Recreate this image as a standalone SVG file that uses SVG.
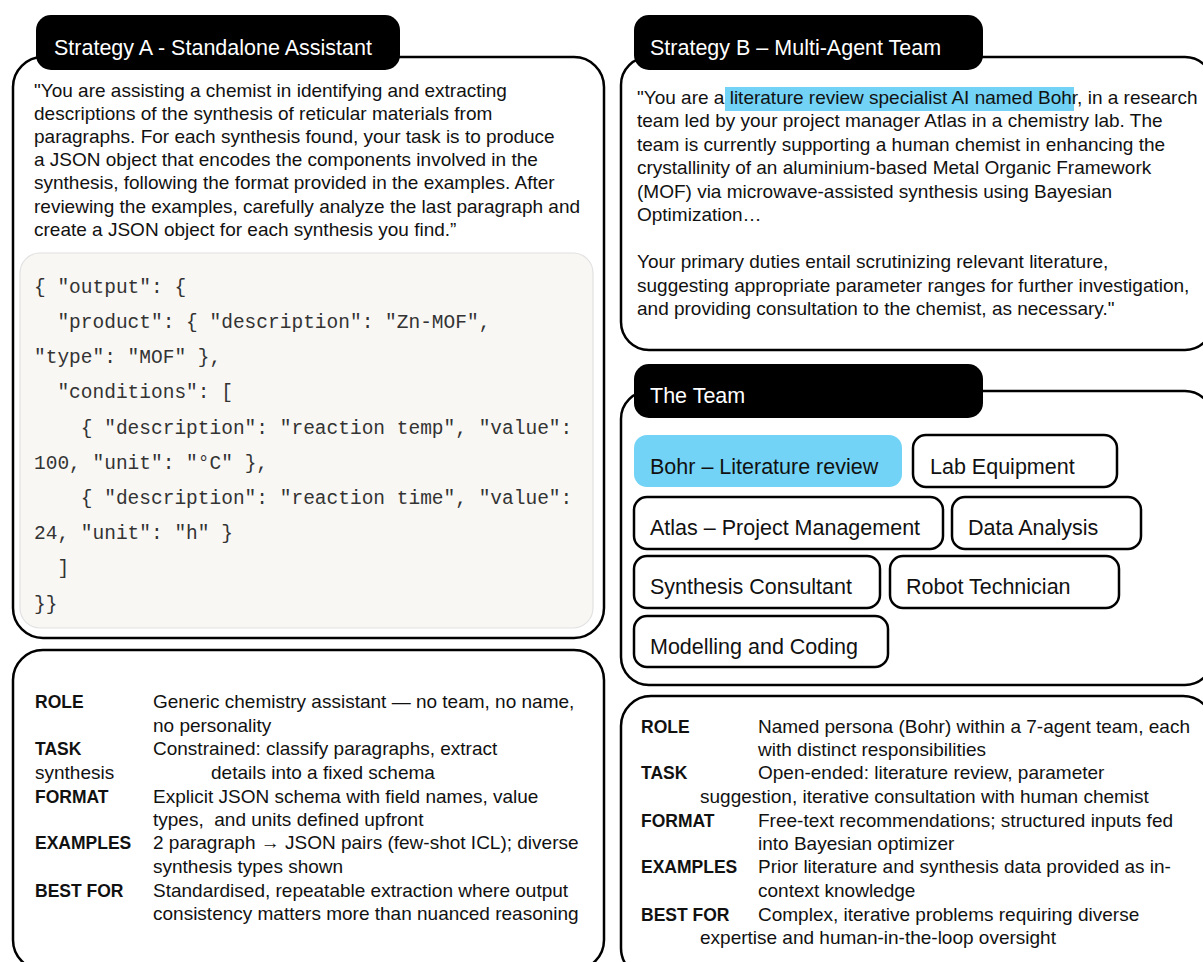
<svg xmlns="http://www.w3.org/2000/svg" width="1203" height="962" viewBox="0 0 1203 962">
<style>
.box{fill:#fff;stroke:#000;stroke-width:2.5}
.tab{fill:#000}
.tabt{font-family:"Liberation Sans",Arial,sans-serif;font-size:21.5px;fill:#fff}
.body{font-family:"Liberation Sans",Arial,sans-serif;font-size:19px;fill:#111}
.lbl{font-family:"Liberation Sans",Arial,sans-serif;font-size:17.5px;font-weight:bold;fill:#111}
.code{font-family:"Liberation Mono","Courier New",monospace;font-size:19.5px;fill:#333;white-space:pre}
.node{fill:#fff;stroke:#000;stroke-width:2.5}
.nodeHi{fill:#72d3f6;stroke:none}
.nt{font-family:"Liberation Sans",Arial,sans-serif;font-size:21.5px;fill:#111}
</style>
<rect width="1203" height="962" fill="#fff"/>

<g id="strategy-a">
  <rect class="box" x="13" y="57" width="591" height="581" rx="30"/>
  <rect class="tab" x="36" y="15" width="364" height="55" rx="15"/>
  <text class="tabt" x="54" y="55">Strategy A - Standalone Assistant</text>
  <g class="body">
    <text x="34" y="97">"You are assisting a chemist in identifying and extracting</text>
    <text x="34" y="120">descriptions of the synthesis of reticular materials from</text>
    <text x="34" y="143">paragraphs. For each synthesis found, your task is to produce</text>
    <text x="34" y="166">a JSON object that encodes the components involved in the</text>
    <text x="34" y="189">synthesis, following the format provided in the examples. After</text>
    <text x="34" y="213">reviewing the examples, carefully analyze the last paragraph and</text>
    <text x="34" y="236">create a JSON object for each synthesis you find.”</text>
  </g>
</g>

<g id="code-example">
  <rect x="20" y="253" width="573" height="375" rx="20" fill="#f8f7f4" stroke="#e2e2e2" stroke-width="1.2"/>
  <g class="code">
    <text x="34" y="293">{ "output": {</text>
    <text x="57.4" y="328">"product": { "description": "Zn-MOF",</text>
    <text x="34" y="363">"type": "MOF" },</text>
    <text x="57.4" y="398">"conditions": [</text>
    <text x="80.8" y="434">{ "description": "reaction temp", "value":</text>
    <text x="34" y="469">100, "unit": "°C" },</text>
    <text x="80.8" y="504">{ "description": "reaction time", "value":</text>
    <text x="34" y="539">24, "unit": "h" }</text>
    <text x="57.4" y="574">]</text>
    <text x="34" y="610">}}</text>
  </g>
</g>

<g id="strategy-a-summary">
  <rect class="box" x="13" y="650" width="591" height="320" rx="30"/>
  <text class="lbl" x="35" y="708">ROLE</text>
  <text class="body" x="153" y="708">Generic chemistry assistant — no team, no name,</text>
  <text class="body" x="153" y="732">no personality</text>
  <text class="lbl" x="35" y="755">TASK</text>
  <text class="body" x="153" y="755">Constrained: classify paragraphs, extract</text>
  <text class="body" x="35" y="779">synthesis</text>
  <text class="body" x="211" y="779">details into a fixed schema</text>
  <text class="lbl" x="35" y="803">FORMAT</text>
  <text class="body" x="153" y="803">Explicit JSON schema with field names, value</text>
  <text class="body" x="153" y="826" style="white-space:pre">types,  and units defined upfront</text>
  <text class="lbl" x="35" y="849">EXAMPLES</text>
  <text class="body" x="153" y="849">2 paragraph → JSON pairs (few-shot ICL); diverse</text>
  <text class="body" x="153" y="873">synthesis types shown</text>
  <text class="lbl" x="35" y="897">BEST FOR</text>
  <text class="body" x="153" y="897">Standardised, repeatable extraction where output</text>
  <text class="body" x="153" y="920">consistency matters more than nuanced reasoning</text>
</g>

<g id="strategy-b">
  <rect class="box" x="621" y="57" width="592" height="293" rx="28"/>
  <rect class="tab" x="634" y="15" width="349" height="55" rx="15"/>
  <text class="tabt" x="650" y="55">Strategy B – Multi-Agent Team</text>
  <rect x="725" y="87" width="349" height="24" fill="#72d3f6"/>
  <g class="body">
    <text x="637" y="104">"You are a literature review specialist AI named Bohr, in a research</text>
    <text x="637" y="127">team led by your project manager Atlas in a chemistry lab. The</text>
    <text x="637" y="151">team is currently supporting a human chemist in enhancing the</text>
    <text x="637" y="174">crystallinity of an aluminium-based Metal Organic Framework</text>
    <text x="637" y="198">(MOF) via microwave-assisted synthesis using Bayesian</text>
    <text x="637" y="221">Optimization…</text>
    <text x="637" y="268">Your primary duties entail scrutinizing relevant literature,</text>
    <text x="637" y="292">suggesting appropriate parameter ranges for further investigation,</text>
    <text x="637" y="315">and providing consultation to the chemist, as necessary."</text>
  </g>
</g>

<g id="team">
  <rect class="box" x="621" y="391" width="592" height="294" rx="28"/>
  <rect class="tab" x="634" y="364" width="349" height="54" rx="15"/>
  <text class="tabt" x="650" y="403">The Team</text>
</g>

<g id="node-bohr">
  <rect class="nodeHi" x="634" y="435" width="268" height="52" rx="13"/>
  <text class="nt" x="650" y="474">Bohr – Literature review</text>
</g>
<g id="node-lab-equipment">
  <rect class="node" x="913" y="435" width="204" height="52" rx="13"/>
  <text class="nt" x="930" y="474">Lab Equipment</text>
</g>
<g id="node-atlas">
  <rect class="node" x="634" y="497" width="309" height="52" rx="13"/>
  <text class="nt" x="650" y="535">Atlas – Project Management</text>
</g>
<g id="node-data-analysis">
  <rect class="node" x="952" y="497" width="189" height="52" rx="13"/>
  <text class="nt" x="968" y="535">Data Analysis</text>
</g>
<g id="node-synthesis-consultant">
  <rect class="node" x="634" y="556" width="246" height="52" rx="13"/>
  <text class="nt" x="650" y="594">Synthesis Consultant</text>
</g>
<g id="node-robot-technician">
  <rect class="node" x="890" y="556" width="229" height="52" rx="13"/>
  <text class="nt" x="906" y="594">Robot Technician</text>
</g>
<g id="node-modelling-coding">
  <rect class="node" x="634" y="616" width="254" height="51" rx="13"/>
  <text class="nt" x="650" y="654">Modelling and Coding</text>
</g>

<g id="connectors"></g>

<g id="strategy-b-summary">
  <rect class="box" x="621" y="696" width="592" height="282" rx="30"/>
  <text class="lbl" x="641" y="733">ROLE</text>
  <text class="body" x="758" y="733">Named persona (Bohr) within a 7-agent team, each</text>
  <text class="body" x="758" y="756">with distinct responsibilities</text>
  <text class="lbl" x="641" y="779">TASK</text>
  <text class="body" x="758" y="779">Open-ended: literature review, parameter</text>
  <text class="body" x="700" y="803">suggestion, iterative consultation with human chemist</text>
  <text class="lbl" x="641" y="827">FORMAT</text>
  <text class="body" x="758" y="827">Free-text recommendations; structured inputs fed</text>
  <text class="body" x="758" y="850">into Bayesian optimizer</text>
  <text class="lbl" x="641" y="873">EXAMPLES</text>
  <text class="body" x="758" y="873">Prior literature and synthesis data provided as in-</text>
  <text class="body" x="758" y="897">context knowledge</text>
  <text class="lbl" x="641" y="921">BEST FOR</text>
  <text class="body" x="758" y="921">Complex, iterative problems requiring diverse</text>
  <text class="body" x="700" y="944">expertise and human-in-the-loop oversight</text>
</g>
</svg>
